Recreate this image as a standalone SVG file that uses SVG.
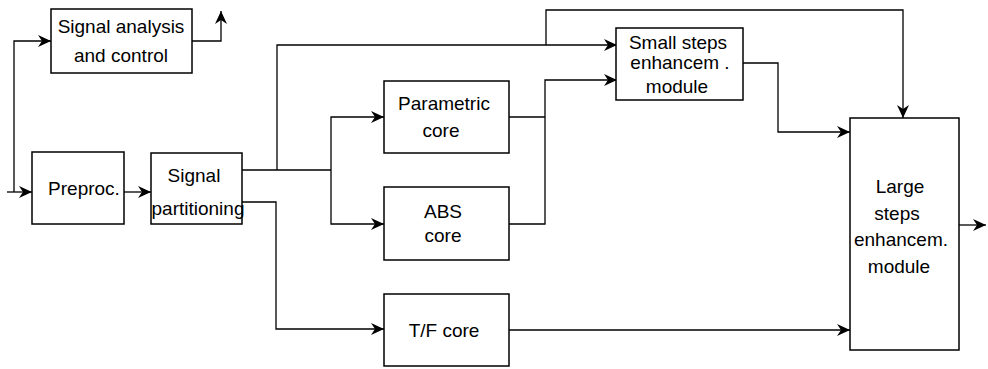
<svg xmlns="http://www.w3.org/2000/svg" width="988" height="369" viewBox="0 0 988 369">
<style>
.box{fill:#fff;stroke:#000;stroke-width:1.5}
.c{fill:none;stroke:#000;stroke-width:1.3}
text{font-family:"Liberation Sans",Arial,sans-serif;font-size:19px;fill:#000;text-anchor:middle}
</style>
<defs>
<marker id="ah" markerUnits="userSpaceOnUse" markerWidth="14" markerHeight="14" viewBox="0 0 14 14" refX="13" refY="7" orient="auto">
<path d="M0,1 L13,7 L0,13 L4,7 Z" fill="#000"/>
</marker>
</defs>
<rect width="988" height="369" fill="#fff"/>
<g id="connectors">
<path class="c" d="M7,192 H32" marker-end="url(#ah)"/>
<path class="c" d="M124,192 H151" marker-end="url(#ah)"/>
<path class="c" d="M14,192 V41 H51" marker-end="url(#ah)"/>
<path class="c" d="M192,41 H221 V11" marker-end="url(#ah)"/>
<path class="c" d="M242,170 H331"/>
<path class="c" d="M277,170 V45 H617" marker-end="url(#ah)"/>
<path class="c" d="M331,170 V117 H384" marker-end="url(#ah)"/>
<path class="c" d="M331,170 V224 H384" marker-end="url(#ah)"/>
<path class="c" d="M242,202 H276 V329 H384" marker-end="url(#ah)"/>
<path class="c" d="M509,117 H545"/>
<path class="c" d="M509,224 H545 V80 H617" marker-end="url(#ah)"/>
<path class="c" d="M546,45 V10 H903 V118" marker-end="url(#ah)"/>
<path class="c" d="M743,63 H778 V132 H850" marker-end="url(#ah)"/>
<path class="c" d="M509,330 H850" marker-end="url(#ah)"/>
<path class="c" d="M959,225 H986" marker-end="url(#ah)"/>
</g>
<g id="signal-analysis">
<rect class="box" x="51" y="9" width="141" height="64"/>
<text x="121" y="33">Signal analysis</text>
<text x="121" y="62">and control</text>
</g>
<g id="preproc">
<rect class="box" x="32" y="152" width="92" height="72"/>
<text x="84" y="195">Preproc.</text>
</g>
<g id="signal-partitioning">
<rect class="box" x="151" y="153" width="91" height="71"/>
<text x="194" y="182">Signal</text>
<text x="198" y="215">partitioning</text>
</g>
<g id="parametric-core">
<rect class="box" x="384" y="81" width="125" height="72"/>
<text x="444" y="110">Parametric</text>
<text x="441" y="137">core</text>
</g>
<g id="abs-core">
<rect class="box" x="384" y="187" width="125" height="73"/>
<text x="443" y="218">ABS</text>
<text x="443" y="242">core</text>
</g>
<g id="tf-core">
<rect class="box" x="384" y="294" width="125" height="72"/>
<text x="444" y="337">T/F core</text>
</g>
<g id="small-steps">
<rect class="box" x="616" y="28" width="127" height="72"/>
<text x="678" y="49">Small steps</text>
<text x="680" y="69">enhancem .</text>
<text x="677" y="93">module</text>
</g>
<g id="large-steps">
<rect class="box" x="850" y="118" width="109" height="232"/>
<text x="900" y="193">Large</text>
<text x="897" y="220">steps</text>
<text x="901" y="246">enhancem.</text>
<text x="899" y="273">module</text>
</g>
</svg>
